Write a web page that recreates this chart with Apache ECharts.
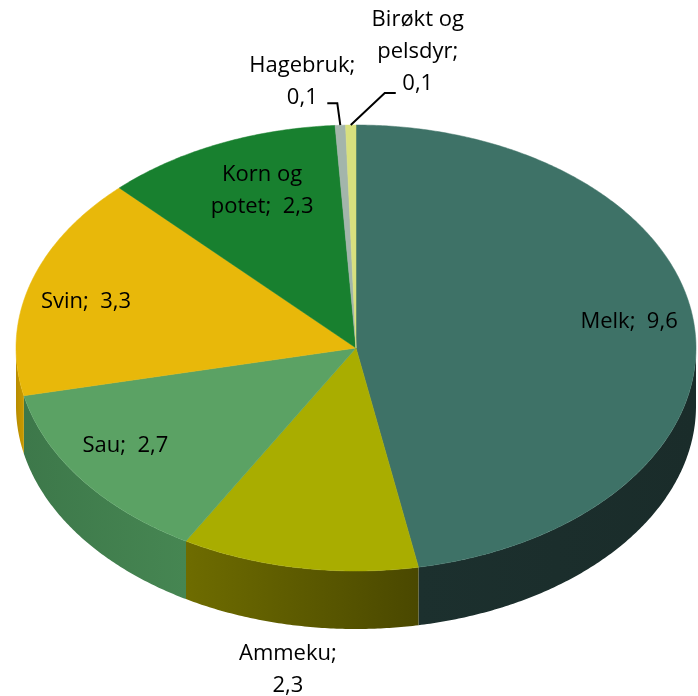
<!DOCTYPE html>
<html>
<head>
<meta charset="utf-8">
<script src="https://cdn.jsdelivr.net/npm/echarts@6/dist/echarts.min.js"></script>
<style>
  html, body { margin: 0; padding: 0; background: #ffffff; }
  #chart { width: 698px; height: 696px; }
</style>
</head>
<body>
<div id="chart"></div>
<script>
// Production by farm type (values shown with Norwegian decimal comma)
const categories = ['Melk', 'Ammeku', 'Sau', 'Svin', 'Korn og\npotet', 'Hagebruk', 'Birøkt og\npelsdyr'];
const values = [9.6, 2.3, 2.7, 3.3, 2.3, 0.1, 0.1];

// Slice colours: top face and side wall (left -> right shading)
const topColors = ['#3e7267', '#a9ad00', '#5ba264', '#e8b80a', '#18802f', '#a3b5ab', '#d8e07e'];
const wallColors = [
  ['#1c302e', '#1a2c2a'],
  ['#6e6c00', '#4a4800'],
  ['#3d784a', '#468652'],
  ['#b88c00', '#c89a00'],
  ['#0f5a20', '#0f5a20'],
  ['#6f7f77', '#6f7f77'],
  ['#9aa050', '#9aa050']
];

// Tilted-disc geometry
const geo = { cx: 356, cy: 348, rx: 340, ry: 223, depth: 58 };

// Label placement: r = fraction of radius along the mid-angle, dx/dy = nudge,
// leader = elbow points relative to the slice's rim point (outside labels)
const labelLayout = [
  { r: 0.78, dx: 9, dy: -10 },
  { r: 1.45, dx: 15, dy: 3 },
  { r: 0.84, dx: 0, dy: -13 },
  { r: 0.86, dx: 10, dy: 9 },
  { r: 0.72, dx: 5, dy: -10 },
  { r: 1.0, dx: -38, dy: -44, leader: [[-3, -22], [-13, -22]] },
  { r: 1.0, dx: 67, dy: -73, leader: [[34, -32], [45, -32]] }
];

const total = values.reduce((a, b) => a + b, 0);
const starts = [];
values.reduce((acc, v, i) => { starts[i] = acc; return acc + v; }, 0);

function pt(deg, k, dropY) {
  const t = deg * Math.PI / 180;
  return [geo.cx + geo.rx * k * Math.sin(t), geo.cy - geo.ry * k * Math.cos(t) + (dropY || 0)];
}
function arc(a, b, dropY) {
  const pts = [];
  const n = Math.max(2, Math.ceil(Math.abs(b - a) / 0.5));
  for (let i = 0; i <= n; i++) pts.push(pt(a + (b - a) * i / n, 1, dropY));
  return pts;
}
function fmt(v) { return v.toFixed(1).replace('.', ','); }
function angles(i) {
  const a = starts[i] / total * 360;
  const b = (starts[i] + values[i]) / total * 360;
  return [a, b];
}

function renderWall(params, api) {
  const i = params.dataIndex;
  const [a, b] = angles(i);
  const lo = Math.max(a, 90), hi = Math.min(b, 270);
  if (lo >= hi) return { type: 'group', children: [] };
  const top = arc(lo, hi, 0);
  const bottom = arc(hi, lo, geo.depth);
  return {
    type: 'polygon',
    shape: { points: top.concat(bottom) },
    style: {
      fill: {
        type: 'linear', x: 0, y: 0, x2: 1, y2: 0,
        colorStops: [
          { offset: 0, color: wallColors[i][0] },
          { offset: 1, color: wallColors[i][1] }
        ]
      },
      stroke: null
    }
  };
}

function renderTop(params, api) {
  const i = params.dataIndex;
  const [a, b] = angles(i);
  const pts = [[geo.cx, geo.cy]].concat(arc(a, b, 0));
  return {
    type: 'polygon',
    shape: { points: pts },
    style: { fill: topColors[i], stroke: topColors[i], lineWidth: 0.5 }
  };
}

function renderLabel(params, api) {
  const i = params.dataIndex;
  const [a, b] = angles(i);
  const mid = (a + b) / 2;
  const L = labelLayout[i];
  const p = pt(mid, L.r, 0);
  const x = p[0] + L.dx, y = p[1] + L.dy;
  // labels outside the disc put the value on its own line
  const sep = L.r > 1 || L.leader ? ';\n' : ';  ';
  const children = [{
    type: 'text',
    style: {
      text: categories[i] + sep + fmt(api.value(0)),
      x: x, y: y,
      align: 'center', verticalAlign: 'middle',
      fill: '#000000',
      font: '22px "Open Sans", sans-serif',
      lineHeight: 32
    }
  }];
  if (L.leader) {
    const rim = pt(mid, 1, 0);
    const line = [rim].concat(L.leader.map(d => [rim[0] + d[0], rim[1] + d[1]]));
    children.push({
      type: 'polyline',
      shape: { points: line },
      style: { stroke: '#000000', lineWidth: 2, fill: null }
    });
  }
  return { type: 'group', children: children };
}

const seriesData = values.map((v, i) => ({ name: categories[i], value: [v] }));

const chart = echarts.init(document.getElementById('chart'), null, { renderer: 'canvas' });
chart.setOption({
  animation: false,
  backgroundColor: '#ffffff',
  series: [
    { type: 'custom', coordinateSystem: 'none', renderItem: renderWall, data: seriesData, z: 1, silent: true },
    { type: 'custom', coordinateSystem: 'none', renderItem: renderTop, data: seriesData, z: 2, silent: true },
    { type: 'custom', coordinateSystem: 'none', renderItem: renderLabel, data: seriesData, z: 3, silent: true }
  ]
});
</script>
</body>
</html>
